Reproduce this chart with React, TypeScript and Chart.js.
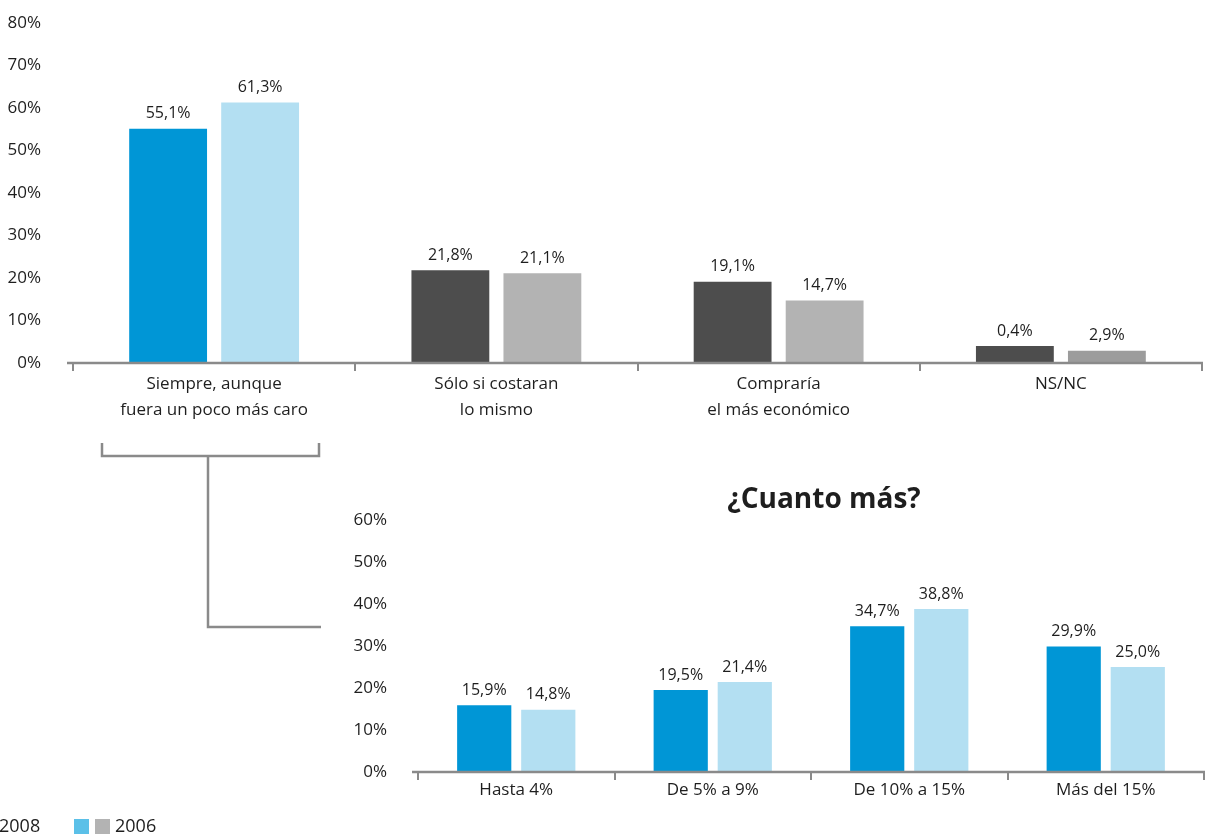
import React, { useEffect, useRef } from "react";
import { Chart, registerables } from "chart.js";

Chart.register(...registerables);

// ---------- Data ----------
const topCategories: string[][] = [
  ["Siempre, aunque", "fuera un poco más caro"],
  ["Sólo si costaran", "lo mismo"],
  ["Compraría", "el más económico"],
  ["NS/NC"],
];
const top2008Values = [55.1, 21.8, 19.1, 4.0];
const top2008Labels = ["55,1%", "21,8%", "19,1%", "0,4%"];
const top2006Values = [61.3, 21.1, 14.7, 2.9];
const top2006Labels = ["61,3%", "21,1%", "14,7%", "2,9%"];
const topYTicks = [0, 10, 20, 30, 40, 50, 60, 70, 80];

const bottomCategories = ["Hasta 4%", "De 5% a 9%", "De 10% a 15%", "Más del 15%"];
const bottom2008Values = [15.9, 19.5, 34.7, 29.9];
const bottom2008Labels = ["15,9%", "19,5%", "34,7%", "29,9%"];
const bottom2006Values = [14.8, 21.4, 38.8, 25.0];
const bottom2006Labels = ["14,8%", "21,4%", "38,8%", "25,0%"];
const bottomYTicks = [0, 10, 20, 30, 40, 50, 60];

const bottomTitle = "¿Cuanto más?";
const legendLabels = ["2008", "2006"];

// ---------- Styles ----------
const FONT = "'Open Sans', sans-serif";
const TEXT = "#1e1e1e";
const AXIS = "#8a8a8a";
const BLUE = "#0096d6";
const LIGHT_BLUE = "#b3dff2";
const DARK = "#4d4d4d";
const GRAY = "#b3b3b3";
const GRAY_NS = "#9c9c9c";

const topColors2008 = [BLUE, DARK, DARK, DARK];
const topColors2006 = [LIGHT_BLUE, GRAY, GRAY, GRAY_NS];

const valueLabelPlugin = {
  id: "valueLabels",
  afterDatasetsDraw(chart: any) {
    const ctx = chart.ctx;
    ctx.save();
    ctx.font = `16px ${FONT}`;
    ctx.fillStyle = TEXT;
    ctx.textAlign = "center";
    ctx.textBaseline = "bottom";
    chart.data.datasets.forEach((ds: any, i: number) => {
      const meta = chart.getDatasetMeta(i);
      meta.data.forEach((el: any, j: number) => {
        ctx.fillText(ds.valueLabels[j], el.x, el.y - 7);
      });
    });
    ctx.restore();
  },
};

const axisLinePlugin = {
  id: "axisLine",
  afterDraw(chart: any, _args: any, opts: any) {
    const { ctx, chartArea } = chart;
    ctx.save();
    ctx.strokeStyle = AXIS;
    ctx.lineWidth = 2.5;
    ctx.beginPath();
    ctx.moveTo(chartArea.left - (opts.ext || 6), chartArea.bottom);
    ctx.lineTo(chartArea.right + 1, chartArea.bottom);
    ctx.stroke();
    ctx.restore();
  },
};

function makeConfig(
  labels: any[],
  d1: number[],
  l1: string[],
  c1: any,
  d2: number[],
  l2: string[],
  c2: any,
  yTicks: number[],
  opt: { padTop: number; padRight: number; yWidth: number; xHeight: number; yPad: number; lineHeight: number; xPad: number; ext: number }
): any {
  return {
    type: "bar",
    data: {
      labels,
      datasets: [
        { label: "2008", data: d1, backgroundColor: c1, valueLabels: l1, categoryPercentage: 0.652, barPercentage: 0.846 },
        { label: "2006", data: d2, backgroundColor: c2, valueLabels: l2, categoryPercentage: 0.652, barPercentage: 0.846 },
      ],
    },
    options: {
      responsive: false,
      animation: false,
      devicePixelRatio: 1,
      layout: { padding: { top: opt.padTop, right: opt.padRight, left: 0, bottom: 0 } },
      plugins: {
        legend: { display: false },
        tooltip: { enabled: false },
        axisLine: { ext: opt.ext },
      },
      scales: {
        x: {
          offset: true,
          border: { display: false },
          grid: {
            offset: true,
            drawOnChartArea: false,
            drawTicks: true,
            tickLength: 8,
            color: AXIS,
            lineWidth: 2,
          },
          ticks: {
            color: TEXT,
            font: { family: FONT, size: 17, lineHeight: opt.lineHeight },
            padding: opt.xPad,
            maxRotation: 0,
            autoSkip: false,
          },
          afterFit(scale: any) {
            scale.height = opt.xHeight;
            scale.paddingLeft = 0;
            scale.paddingRight = 0;
            scale.paddingTop = 0;
            scale.paddingBottom = 0;
          },
        },
        y: {
          min: yTicks[0],
          max: yTicks[yTicks.length - 1],
          border: { display: false },
          grid: { display: false, drawTicks: false },
          afterBuildTicks(scale: any) {
            scale.ticks = yTicks.map((v) => ({ value: v }));
          },
          ticks: {
            color: TEXT,
            padding: opt.yPad,
            font: { family: FONT, size: 17 },
            callback: (v: any) => `${v}%`,
          },
          afterFit(scale: any) {
            scale.width = opt.yWidth;
            scale.paddingTop = 0;
            scale.paddingBottom = 0;
            scale.paddingLeft = 0;
            scale.paddingRight = 0;
          },
        },
      },
    },
    plugins: [valueLabelPlugin, axisLinePlugin],
  };
}

export default function App() {
  const topRef = useRef<HTMLCanvasElement>(null);
  const bottomRef = useRef<HTMLCanvasElement>(null);

  useEffect(() => {
    document.body.style.margin = "0";
    const top = new Chart(
      topRef.current!,
      makeConfig(topCategories, top2008Values, top2008Labels, topColors2008, top2006Values, top2006Labels, topColors2006, topYTicks, {
        padTop: 23,
        padRight: 3,
        yWidth: 73,
        xHeight: 67,
        yPad: 32,
        lineHeight: 1.55,
        xPad: 0,
        ext: 6,
      })
    );
    const bottom = new Chart(
      bottomRef.current!,
      makeConfig(bottomCategories, bottom2008Values, bottom2008Labels, BLUE, bottom2006Values, bottom2006Labels, LIGHT_BLUE, bottomYTicks, {
        padTop: 39,
        padRight: 1,
        yWidth: 88,
        xHeight: 62,
        yPad: 31,
        lineHeight: 1.2,
        xPad: 0,
        ext: 6,
      })
    );
    return () => {
      top.destroy();
      bottom.destroy();
    };
  }, []);

  const sq = (color: string, left: number) => (
    <div style={{ position: "absolute", left, top: 819, width: 15, height: 15, background: color }} />
  );

  return (
    <div style={{ position: "fixed", left: 0, top: 0, width: 1205, height: 834, overflow: "hidden", background: "#fff", fontFamily: FONT, color: TEXT }}>
      <canvas ref={topRef} width={1205} height={430} style={{ position: "absolute", left: 0, top: 0, width: 1205, height: 430 }} />
      <canvas ref={bottomRef} width={875} height={353} style={{ position: "absolute", left: 330, top: 481, width: 875, height: 353 }} />
      <svg width={1205} height={834} style={{ position: "absolute", left: 0, top: 0, pointerEvents: "none" }}>
        <g stroke={AXIS} strokeWidth={2.5} fill="none">
          <polyline points="102,443 102,456 319,456 319,443" />
          <polyline points="208,456 208,627 321,627" />
        </g>
      </svg>
      <div style={{ position: "absolute", left: 624, top: 479, width: 400, textAlign: "center", fontSize: 28, fontWeight: 700, lineHeight: "36px" }}>
        {bottomTitle}
      </div>
      <div style={{ position: "absolute", left: -1, top: 812, fontSize: 18, lineHeight: "26px" }}>{legendLabels[0]}</div>
      {sq("#5bc0e8", 74)}
      {sq(GRAY, 95)}
      <div style={{ position: "absolute", left: 115, top: 812, fontSize: 18, lineHeight: "26px" }}>{legendLabels[1]}</div>
    </div>
  );
}
